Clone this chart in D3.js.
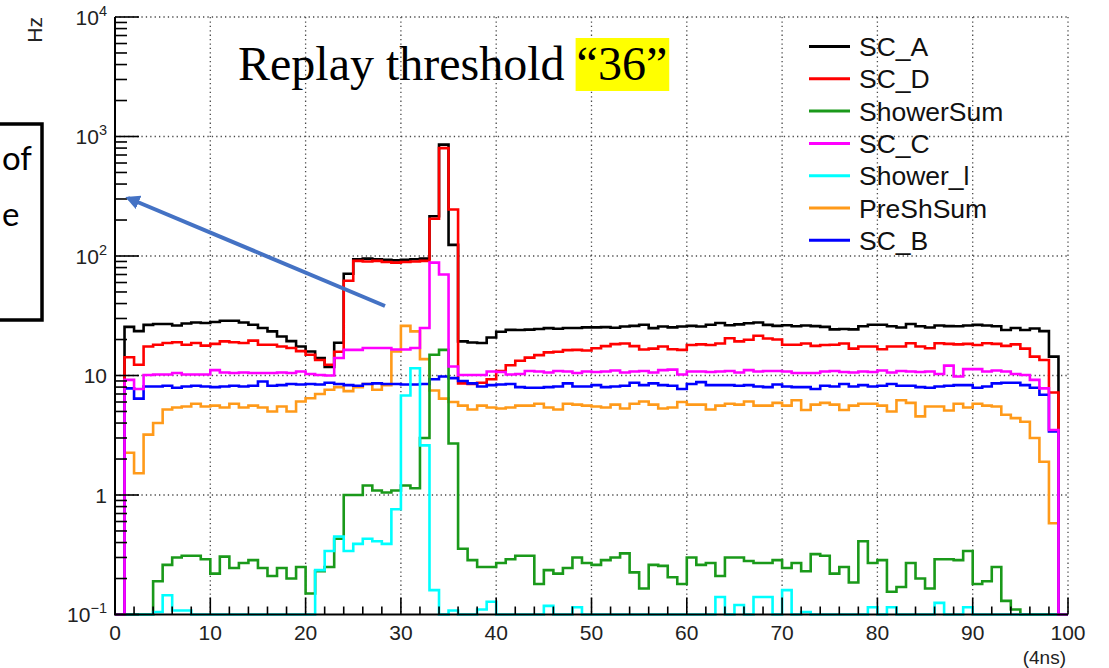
<!DOCTYPE html>
<html>
<head>
<meta charset="utf-8">
<script src="https://cdn.jsdelivr.net/npm/d3@7"></script>
<style>
  html, body { margin: 0; padding: 0; background: #fff; }
  svg { display: block; }
</style>
</head>
<body>
<svg id="chart" width="1109" height="668"></svg>
<script>
// Rate per time bin (Hz), 100 bins of 4 ns; 0 = empty bin
const scA = [0,25.5,23.5,26.5,27,27,26.2,27.2,27.8,27.5,28,28.7,28.7,27.8,26.6,25,23.4,21.2,19.4,17.5,
  15.9,14,11.8,18.8,71,94,95,94,93,92,93,94,95,215,855,124,19.3,18.9,18.7,20.8,
  23.2,24.1,24,24.2,24.5,24.9,24.6,25,25,25.3,25.3,25.4,25.1,25.7,26,26.6,24.9,25.7,25.3,25.7,
  26,25.7,26.6,27.5,26.3,26.8,27.4,27.8,26.5,26,26.3,25.8,26.2,25.9,25.5,24.3,24.5,24.3,25.8,26.6,
  26.6,25.8,25.2,27,25.8,25.2,26.2,25.9,25.8,26.2,26.5,26.2,25.8,24,25,24,24.7,23.5,14.4,0];
const scD = [0,14.2,12.3,17.5,18.1,18.7,19,18.1,18.7,17.8,18.4,19.3,19,18.7,19.6,18.1,18.1,17.5,17,16,
  14.9,13.5,12.3,15.8,62,91,90,91,89,88,89,90,91,205,800,245,8.6,8.5,8.7,9.3,
  10.9,12.2,13.3,14.1,14.8,15.6,15.8,16.3,16.4,16.2,16.9,17.6,18.3,18.5,17.6,16.5,16.8,17.5,16.6,16.4,
  18,18.2,18,18.5,20.5,19.3,19.9,21.5,20.4,20,18.1,18.1,18.5,17.7,18,18.1,18.5,16.8,17.5,17.5,
  16.6,17.5,17.5,18.6,17.5,16.9,18.6,18.4,18.2,18.4,18,18.6,18.4,17.7,18.2,16.8,14.4,13.5,7.2,0];
const showerSum = [0,0,0,0,0.19,0.26,0.30,0.31,0.31,0.29,0.22,0.305,0.245,0.27,0.285,0.245,0.21,0.245,0.20,0.25,
  0.15,0.23,0.25,0.43,1.0,1.0,1.2,1.09,1.05,1.09,1.2,1.14,3.0,14.9,16.4,2.7,0.355,0.285,0.25,0.25,
  0.27,0.29,0.31,0.31,0.18,0.235,0.22,0.245,0.30,0.27,0.26,0.285,0.30,0.325,0.225,0.165,0.26,0.255,0.205,0.18,
  0.30,0.26,0.27,0.21,0.30,0.30,0.28,0.27,0.27,0.285,0.245,0.27,0.23,0.32,0.31,0.22,0.25,0.185,0.41,0.27,
  0.285,0.155,0.17,0.27,0.2,0.165,0.29,0.29,0.285,0.34,0.18,0.19,0.25,0.13,0.11,0,0,0,0,0];
const scC = [0,9.2,7.7,10.1,10.2,10.2,10.5,10.2,10.2,10.2,11.1,10.6,10.5,10.6,10.5,10.5,10.5,10.6,10.5,10.8,
  10.3,10.1,10,14,16.4,16.4,17,17,17,16.5,16.5,17,25,88,70,11.9,10.1,10.1,10.1,10.8,
  10.7,10.2,10.3,10.9,10.8,10.6,10.9,10.8,10.5,10.8,10.7,10.8,11,10.6,10.8,10.9,10.6,11.1,11.2,10.2,
  10.8,10.8,10.7,10.8,10.9,10.6,11.1,10.8,10.9,10.9,10.8,10.5,10.5,10.5,10.8,10.9,10.7,10.6,10.8,10.7,
  11,10.6,10.9,10.8,10.7,10.8,10.3,12.1,9.8,11.3,11.3,10.8,11,10.8,10.3,10.1,9.2,7.8,3.5,0];
const showerI = [0,0,0,0,0.105,0.145,0.108,0.108,0,0,0,0,0,0,0,0,0,0,0,0,
  0,0.235,0.34,0.45,0.34,0.39,0.43,0.41,0.39,0.76,6.8,11.5,2.6,0.16,0,0.108,0,0,0.11,0.128,
  0,0,0,0,0,0.118,0,0,0.115,0,0,0,0,0,0,0,0,0,0,0,
  0,0,0,0.14,0,0.12,0,0.14,0.14,0,0.16,0,0.105,0,0,0,0,0,0,0.115,
  0,0.115,0,0,0,0,0.125,0,0,0.115,0,0,0,0,0,0,0,0,0,0];
const preShSum = [0,2.26,1.52,3.2,4.0,5.2,5.4,5.5,5.8,5.5,5.6,5.4,5.8,5.4,5.6,5.4,5.0,5.5,5.0,6.06,
  6.45,7.0,7.6,8.0,7.4,8.0,8.5,7.6,8.3,15.9,26,23.4,13.7,7.5,6.4,6.0,5.6,5.2,5.6,5.4,
  5.3,5.4,5.6,5.6,5.8,5.4,5.2,5.8,5.7,5.6,5.5,5.4,5.7,5.3,5.8,6.06,5.7,5.3,5.4,6.0,
  5.7,5.7,5.2,5.6,5.8,5.7,6.06,5.6,5.6,5.9,5.6,6.2,5.15,5.7,5.9,5.7,5.15,5.6,5.8,5.8,
  5.6,5.0,6.2,5.9,4.55,5.5,5.5,5.1,5.8,5.4,5.8,5.6,5.5,4.7,4.4,4.1,3.0,1.9,0.58,0];
const scB = [0,7.8,6.4,8.1,8.1,8.2,7.9,8.1,8.2,8.1,8.0,8.1,8.2,8.1,8.2,8.9,8.2,8.3,8.5,8.4,
  8.5,8.4,8.7,8.5,8.3,8.2,8.5,8.6,8.5,8.5,8.4,8.4,8.5,9.3,9.8,9.5,9.0,8.6,8.1,8.3,
  8.4,8.5,8.0,7.9,7.9,8.0,8.1,8.6,8.1,8.1,8.3,8.0,8.1,8.2,8.7,8.3,8.6,8.3,8.2,7.7,
  8.5,8.8,8.3,8.3,8.3,8.2,8.3,8.1,8.0,8.4,8.1,8.0,8.0,7.7,8.2,8.1,8.5,8.1,8.3,8.1,
  8.2,8.5,8.2,8.2,8.0,7.9,8.1,8.2,8.3,8.3,7.9,8.1,8.6,8.7,8.7,8.3,7.9,6.9,3.4,0];

// Legend order and colours
const seriesNames = ["SC_A", "SC_D", "ShowerSum", "SC_C", "Shower_l", "PreShSum", "SC_B"];
const seriesValues = [scA, scD, showerSum, scC, showerI, preShSum, scB];
const seriesColors = ["#000000", "#ff0000", "#1a991a", "#ff00ff", "#00ffff", "#ff9a1a", "#0000ff"];
// Painting order (index into the lists above): later ones sit on top
const drawOrder = [0, 1, 5, 6, 2, 4, 3];

const xTickValues = [0, 10, 20, 30, 40, 50, 60, 70, 80, 90, 100];
const xTickLabels = ["0", "10", "20", "30", "40", "50", "60", "70", "80", "90", "100"];
const yDecadeExponents = [-1, 0, 1, 2, 3, 4];
const yDecadeLabels = [["10", "\u22121"], ["1", ""], ["10", ""], ["10", "2"], ["10", "3"], ["10", "4"]];

const frame = { left: 115, right: 1068, top: 17, bottom: 614.5 };
const svg = d3.select("#chart");
const sans = "'Liberation Sans', Arial, Helvetica, sans-serif";

const x = d3.scaleLinear().domain([0, 100]).range([frame.left, frame.right]);
const y = d3.scaleLog().domain([0.1, 1e4]).range([frame.bottom, frame.top]);
const yFloor = 0.1;

// ---- grid (dotted) ----
const grid = svg.append("g").attr("stroke", "#4a4a4a").attr("stroke-width", 1.3)
  .attr("stroke-dasharray", "1.3,3.1").attr("fill", "none");
xTickValues.filter(v => v > 0).forEach(v => {
  grid.append("line").attr("x1", x(v)).attr("x2", x(v)).attr("y1", frame.top).attr("y2", frame.bottom);
});
yDecadeExponents.filter(e => e > -1).forEach(e => {
  grid.append("line").attr("x1", frame.left).attr("x2", frame.right).attr("y1", y(Math.pow(10, e))).attr("y2", y(Math.pow(10, e)));
});

// ---- histograms as step lines ----
const line = d3.line()
  .x(d => x(d.x))
  .y(d => y(Math.max(d.v, yFloor)))
  .curve(d3.curveStepAfter);
function stepPoints(vals) {
  const pts = vals.map((v, i) => ({ x: i, v: v }));
  pts.push({ x: vals.length, v: vals[vals.length - 1] });
  return pts;
}
const hists = svg.append("g").attr("fill", "none").attr("stroke-width", 2.6).attr("stroke-linejoin", "miter");
drawOrder.forEach(k => {
  hists.append("path")
    .attr("d", line(stepPoints(seriesValues[k])))
    .attr("stroke", seriesColors[k]);
});

// ---- axes ----
const axes = svg.append("g").attr("stroke", "#000");
axes.append("line").attr("x1", frame.left).attr("x2", frame.left).attr("y1", frame.top).attr("y2", frame.bottom).attr("stroke-width", 2);
axes.append("line").attr("x1", frame.left - 1).attr("x2", frame.right).attr("y1", frame.bottom).attr("y2", frame.bottom).attr("stroke-width", 2);

// x ticks: majors every 10, minors every 2 (pointing into the frame)
d3.range(0, 101, 2).forEach(v => {
  const major = v % 10 === 0;
  axes.append("line").attr("x1", x(v)).attr("x2", x(v))
    .attr("y1", frame.bottom).attr("y2", frame.bottom - (major ? 17 : 8)).attr("stroke-width", 1.6);
});
// y ticks: decades long, 2..9 short
yDecadeExponents.forEach(e => {
  const base = Math.pow(10, e);
  axes.append("line").attr("x1", frame.left).attr("x2", frame.left + 24)
    .attr("y1", y(base)).attr("y2", y(base)).attr("stroke-width", 1.6);
  if (e < 4) {
    d3.range(2, 10).forEach(m => {
      axes.append("line").attr("x1", frame.left).attr("x2", frame.left + 12)
        .attr("y1", y(m * base)).attr("y2", y(m * base)).attr("stroke-width", 1.6);
    });
  }
});

// tick labels
const labels = svg.append("g").attr("font-family", sans).attr("fill", "#222");
xTickValues.forEach((v, i) => {
  labels.append("text").attr("x", x(v)).attr("y", frame.bottom + 25.5)
    .attr("text-anchor", "middle").attr("font-size", 21).text(xTickLabels[i]);
});
yDecadeExponents.forEach((e, i) => {
  const t = labels.append("text").attr("x", 107).attr("y", y(Math.pow(10, e)) + 7.5)
    .attr("text-anchor", "end").attr("font-size", 21);
  t.append("tspan").text(yDecadeLabels[i][0]);
  if (yDecadeLabels[i][1]) {
    t.append("tspan").attr("dy", -9).attr("font-size", 14.5).text(yDecadeLabels[i][1]);
  }
});
labels.append("text").attr("x", 1066).attr("y", 664).attr("text-anchor", "end")
  .attr("font-size", 19).text("(4ns)");
labels.append("text").attr("transform", "translate(42,17) rotate(-90)")
  .attr("text-anchor", "end").attr("font-size", 21).text("Hz");

// ---- legend ----
const legend = svg.append("g").attr("font-family", sans);
seriesNames.forEach((name, i) => {
  const ry = 46.5 + 32.3 * i;
  legend.append("line").attr("x1", 809).attr("x2", 850).attr("y1", ry).attr("y2", ry)
    .attr("stroke", seriesColors[i]).attr("stroke-width", 3);
  legend.append("text").attr("x", 859).attr("y", ry + 9.5).attr("font-size", 26.5)
    .attr("fill", "#111").text(name);
});

// ---- title with highlighted value ----
const titleFont = "'Liberation Serif', 'Times New Roman', serif";
const titleSize = 48;
const titleMain = svg.append("text").attr("x", 238).attr("y", 80)
  .attr("font-family", titleFont).attr("font-size", titleSize).attr("fill", "#000")
  .attr("xml:space", "preserve").style("white-space", "pre")
  .text("Replay threshold ");
const mainW = titleMain.node().getComputedTextLength();
const valText = "\u201C36\u201D";
const valNode = svg.append("text").attr("x", 238 + mainW).attr("y", 80)
  .attr("font-family", titleFont).attr("font-size", titleSize).attr("fill", "#000").text(valText);
const valW = valNode.node().getComputedTextLength();
svg.insert("rect", () => valNode.node())
  .attr("x", 238 + mainW - 1).attr("y", 38).attr("width", valW + 3).attr("height", 53)
  .attr("fill", "#ffff00");

// ---- side note box (runs off the page edge) and pointer ----
const noteFont = "Lato, 'Open Sans', sans-serif";
const note = svg.append("g");
note.append("rect").attr("x", -20).attr("y", 124).attr("width", 62).attr("height", 196)
  .attr("fill", "none").attr("stroke", "#000").attr("stroke-width", 3.5);
note.append("text").attr("x", 2).attr("y", 170)
  .attr("font-family", noteFont).attr("font-size", 33).text("of");
note.append("text").attr("x", 2).attr("y", 226)
  .attr("font-family", noteFont).attr("font-size", 33).text("e");

const defs = svg.append("defs");
defs.append("marker").attr("id", "arrowHead").attr("viewBox", "0 0 10 10")
  .attr("refX", 8).attr("refY", 5).attr("markerWidth", 3.6).attr("markerHeight", 3.6)
  .attr("orient", "auto").append("path").attr("d", "M0,0 L10,5 L0,10 z").attr("fill", "#4472C4");
svg.append("line").attr("x1", 385).attr("y1", 306).attr("x2", 128).attr("y2", 198)
  .attr("stroke", "#4472C4").attr("stroke-width", 4).attr("marker-end", "url(#arrowHead)");
</script>
</body>
</html>
